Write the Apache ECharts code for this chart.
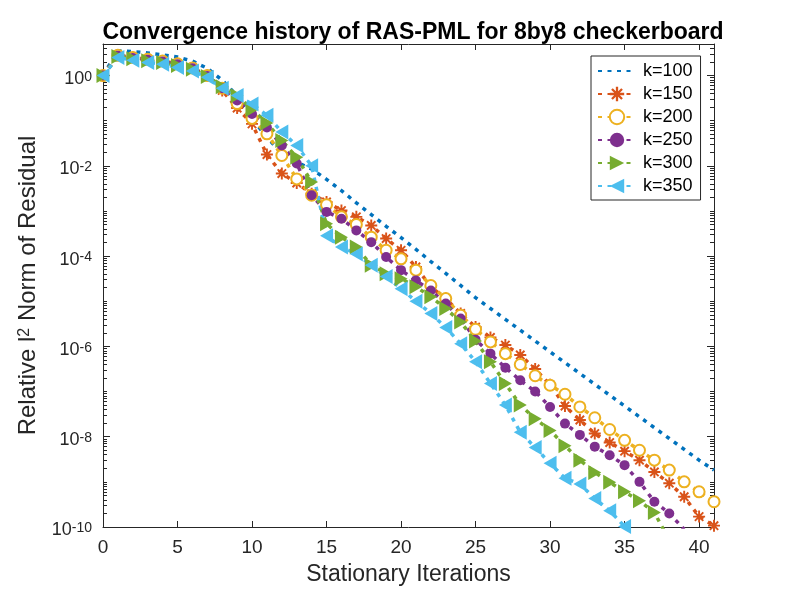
<!DOCTYPE html>
<html>
<head>
<meta charset="utf-8">
<script src="https://cdn.jsdelivr.net/npm/echarts@6.0.0/dist/echarts.min.js"></script>
<style>
  html, body { margin: 0; padding: 0; background: #fff; }
  #chart { width: 789px; height: 592px; }
</style>
</head>
<body>
<div id="chart"></div>
<script>
// log10 of the relative residual, one value per iteration (0, 1, 2, ...)
var k100Exp = [0, 0.55, 0.53, 0.50, 0.46, 0.41, 0.32, 0.16, -0.10, -0.45, -0.95, -1.37, -1.72, -1.92, -2.07,
  -2.30, -2.55, -2.82, -3.08, -3.34, -3.59, -3.85, -4.12, -4.38, -4.65, -4.92, -5.16, -5.40, -5.64, -5.88,
  -6.12, -6.36, -6.60, -6.84, -7.08, -7.32, -7.56, -7.80, -8.04, -8.28, -8.52, -8.74];
var k150Exp = [0, 0.45, 0.40, 0.36, 0.32, 0.26, 0.17, 0.0, -0.33, -0.72, -1.07, -1.75, -2.17, -2.38, -2.62,
  -2.80, -2.99, -3.13, -3.32, -3.61, -3.87, -4.24, -4.68, -4.94, -5.27, -5.57, -5.80, -5.97, -6.19, -6.50,
  -6.85, -7.32, -7.63, -7.93, -8.13, -8.32, -8.52, -8.78, -9.03, -9.33, -9.77, -9.97];
var k200Exp = [0, 0.45, 0.40, 0.36, 0.32, 0.26, 0.17, 0.0, -0.28, -0.62, -0.95, -1.29, -1.77, -2.29, -2.65,
  -2.86, -3.13, -3.30, -3.58, -3.87, -4.06, -4.31, -4.65, -4.94, -5.31, -5.62, -5.90, -6.16, -6.40, -6.65,
  -6.86, -7.06, -7.34, -7.58, -7.84, -8.08, -8.30, -8.52, -8.74, -9.00, -9.22, -9.44];
var k250Exp = [0, 0.44, 0.39, 0.35, 0.31, 0.25, 0.16, -0.01, -0.28, -0.55, -0.85, -1.15, -1.55, -1.95, -2.65,
  -3.02, -3.17, -3.43, -3.69, -4.02, -4.31, -4.54, -4.76, -5.05, -5.38, -5.85, -6.16, -6.47, -6.75, -7.00,
  -7.34, -7.71, -7.96, -8.22, -8.41, -8.63, -9.00, -9.44, -9.70, -10.05];
var k300Exp = [0, 0.42, 0.37, 0.33, 0.29, 0.22, 0.14, -0.02, -0.25, -0.45, -0.75, -1.05, -1.44, -1.81, -2.36,
  -3.28, -3.58, -3.80, -4.20, -4.39, -4.50, -4.68, -4.90, -5.16, -5.46, -5.88, -6.34, -6.82, -7.30, -7.60,
  -7.86, -8.20, -8.52, -8.79, -9.01, -9.22, -9.42, -9.68, -10.3];
var k350Exp = [0, 0.40, 0.34, 0.29, 0.25, 0.18, 0.10, -0.04, -0.28, -0.44, -0.63, -0.88, -1.25, -1.55, -2.00,
  -3.55, -3.80, -3.95, -4.20, -4.45, -4.72, -5.00, -5.27, -5.58, -5.94, -6.34, -6.82, -7.30, -7.90, -8.24,
  -8.59, -8.92, -9.05, -9.37, -9.64, -9.99];

var seriesNames = ['k=100', 'k=150', 'k=200', 'k=250', 'k=300', 'k=350'];
var seriesExps = [k100Exp, k150Exp, k200Exp, k250Exp, k300Exp, k350Exp];
var yMajorTicks = [1e-10, 1e-8, 1e-6, 1e-4, 1e-2, 1];

var colors = ['#0072BD', '#D95319', '#EDB120', '#7E2F8E', '#77AC30', '#4DBEEE'];
var FONT = 'Liberation Sans, Arial, Helvetica, sans-serif';
var AXIS = '#262626';

// asterisk ("+" and "x" bars) and left/right pointing triangles
var asterisk = 'path://M0,42L100,42L100,58L0,58Z M42,0L58,0L58,100L42,100Z ' +
  'M20.7,9.3L90.7,79.3L79.3,90.7L9.3,20.7Z M79.3,9.3L90.7,20.7L20.7,90.7L9.3,79.3Z';
var triRight = 'path://M0,0L100,50L0,100Z';
var triLeft = 'path://M100,0L0,50L100,100Z';

var markers = [
  { symbol: 'none', size: 0 },
  { symbol: asterisk, size: 12 },
  { symbol: 'emptyCircle', size: 11 },
  { symbol: 'circle', size: 10 },
  { symbol: triRight, size: [13, 15] },
  { symbol: triLeft, size: [13, 15] }
];

// minor ticks of the log axis: odd decades and 2..9 x 10^n
var yMinorTicks = [];
for (var n = -10; n <= 0; n++) {
  if (n % 2 !== 0) yMinorTicks.push(Math.pow(10, n));
  for (var m = 2; m <= 9; m++) {
    var v = m * Math.pow(10, n);
    if (v <= 5) yMinorTicks.push(v);
  }
}

var myChart = echarts.init(document.getElementById('chart'));

function yAxisCfg(pos, ticks, len, showLine, showLabel) {
  return {
    type: 'log',
    logBase: 10,
    min: 1e-10,
    max: 5,
    position: pos,
    axisLine: { show: showLine, lineStyle: { color: AXIS, width: 1 } },
    axisTick: { show: true, inside: true, length: len, customValues: ticks, lineStyle: { color: AXIS, width: 1 } },
    axisLabel: {
      show: showLabel,
      customValues: yMajorTicks,
      margin: 11,
      padding: [7, 0, 0, 0],
      formatter: function (val) {
        var e = Math.round(Math.log(val) / Math.LN10);
        return '{b|10}{s|' + e + '}';
      },
      rich: {
        b: { fontSize: 18, fontFamily: FONT, color: AXIS, lineHeight: 18, padding: [4, 0, 0, 0], verticalAlign: 'bottom' },
        s: { fontSize: 14, fontFamily: FONT, color: AXIS, lineHeight: 14, verticalAlign: 'top' }
      }
    },
    splitLine: { show: false }
  };
}

function xAxisCfg(pos, showLabel) {
  return {
    type: 'value',
    min: 0,
    max: 41,
    interval: 5,
    position: pos,
    axisLine: { show: true, onZero: false, lineStyle: { color: AXIS, width: 1 } },
    axisTick: { show: true, inside: true, length: 6, lineStyle: { color: AXIS, width: 1 } },
    axisLabel: { show: showLabel, fontSize: 19, fontFamily: FONT, color: AXIS, margin: 11 },
    splitLine: { show: false }
  };
}

var xAxes = [xAxisCfg('bottom', true), xAxisCfg('top', false)];
xAxes[0].name = 'Stationary Iterations';
xAxes[0].nameLocation = 'middle';
xAxes[0].nameGap = 36;
xAxes[0].nameTextStyle = { fontSize: 23, fontFamily: FONT, color: AXIS };

var yAxes = [
  yAxisCfg('left', yMajorTicks, 7, true, true),
  yAxisCfg('left', yMinorTicks, 4, false, false),
  yAxisCfg('right', yMajorTicks, 7, true, false),
  yAxisCfg('right', yMinorTicks, 4, false, false)
];
yAxes[0].name = '{n|Relative l}{s|2}{n| Norm of Residual}';
yAxes[0].nameLocation = 'middle';
yAxes[0].nameGap = 62;
yAxes[0].nameTextStyle = {
  rich: {
    n: { fontSize: 24, fontFamily: FONT, color: AXIS, lineHeight: 24, padding: [5, 0, 0, 0], verticalAlign: 'bottom' },
    s: { fontSize: 16, fontFamily: FONT, color: AXIS, lineHeight: 16, verticalAlign: 'top' }
  }
};

var series = seriesNames.map(function (name, idx) {
  return {
    name: name,
    type: 'line',
    xAxisIndex: 0,
    yAxisIndex: 0,
    data: seriesExps[idx].map(function (e, i) { return [i, Math.pow(10, e)]; }),
    symbol: markers[idx].symbol,
    symbolSize: markers[idx].size,
    showSymbol: markers[idx].symbol !== 'none',
    clip: true,
    itemStyle: { color: colors[idx], borderColor: colors[idx], borderWidth: idx === 2 ? 3 : 0 },
    lineStyle: { color: colors[idx], width: 3.5, type: [4, 5.5], cap: 'butt' },
    emphasis: { disabled: true }
  };
});

var legendData = seriesNames.map(function (name, idx) {
  if (markers[idx].symbol === 'none') {
    return { name: name, itemStyle: { color: 'rgba(0,0,0,0)', borderColor: 'rgba(0,0,0,0)', borderWidth: 0 } };
  }
  return { name: name };
});

option = {
  animation: false,
  backgroundColor: '#fff',
  title: {
    text: 'Convergence history of RAS-PML for 8by8 checkerboard',
    left: 408,
    textAlign: 'center',
    top: 16,
    textStyle: { fontSize: 23, fontWeight: 'bold', fontFamily: FONT, color: '#000' }
  },
  grid: { left: 103, right: 75, top: 44, bottom: 65 },
  legend: {
    orient: 'vertical',
    left: 591,
    top: 56,
    itemWidth: 38,
    itemHeight: 18,
    itemGap: 3,
    padding: [5, 8, 4, 6],
    borderColor: AXIS,
    borderWidth: 1,
    backgroundColor: '#fff',
    textStyle: { fontSize: 18, fontFamily: FONT, color: '#000', lineHeight: 20, padding: [0, 0, 0, 2] },
    data: legendData
  },
  xAxis: xAxes,
  yAxis: yAxes,
  series: series
};

myChart.setOption(option);
</script>
</body>
</html>
